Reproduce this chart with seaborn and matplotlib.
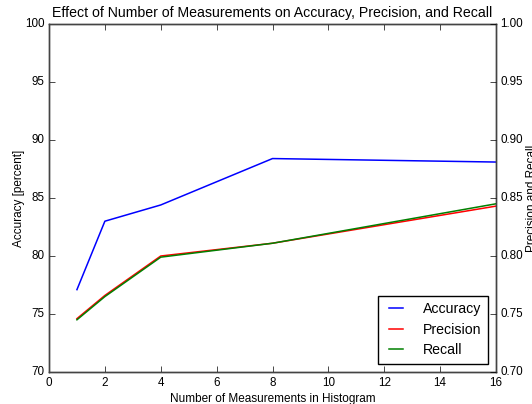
import matplotlib
matplotlib.use("Agg")
import matplotlib.pyplot as plt
import seaborn as sns
import pandas as pd

measurements = [1, 2, 4, 8, 16]
accuracy = [77.1, 83.0, 84.4, 88.4, 88.1]
precision = [0.746, 0.766, 0.800, 0.811, 0.843]
recall = [0.745, 0.765, 0.799, 0.811, 0.845]

plt.style.use("classic")
plt.rcParams["font.family"] = ["Liberation Sans", "DejaVu Sans"]
plt.rcParams["font.size"] = 8.5

df = pd.DataFrame({"n": measurements, "acc": accuracy, "prec": precision, "rec": recall})

fig = plt.figure(figsize=(5.32, 4.04), dpi=100, facecolor="white")
ax = fig.add_axes([49/532, 1-372/404, (496-49)/532, (372-24)/404])
ax2 = ax.twinx()

sns.lineplot(data=df, x="n", y="acc", ax=ax, color="b", linewidth=1.1, label="Accuracy", legend=False)
sns.lineplot(data=df, x="n", y="prec", ax=ax2, color="r", linewidth=1.1, label="Precision", legend=False)
sns.lineplot(data=df, x="n", y="rec", ax=ax2, color="g", linewidth=1.1, label="Recall", legend=False)

ax.set_xlim(0, 16)
ax.set_ylim(70, 100)
ax2.set_ylim(0.70, 1.00)
ax.set_xticks(range(0, 17, 2))
ax.set_yticks(range(70, 101, 5))
ax2.set_yticks([0.70, 0.75, 0.80, 0.85, 0.90, 0.95, 1.00])
ax2.set_yticklabels(["0.70", "0.75", "0.80", "0.85", "0.90", "0.95", "1.00"])

ax.set_xlabel("Number of Measurements in Histogram", fontsize=8.5, labelpad=3)
ax.set_ylabel("Accuracy [percent]", fontsize=8.5, labelpad=0)
ax2.set_ylabel("Precision and Recall", fontsize=8.5, labelpad=2)
ax.set_title("Effect of Number of Measurements on Accuracy, Precision, and Recall", fontsize=10.2)

ax.tick_params(axis="x", labelsize=8.4, pad=3.5)
ax.tick_params(axis="y", labelsize=8.4, pad=3)
ax2.tick_params(axis="y", labelsize=8.4, pad=3)
for a in (ax, ax2):
    for s in a.spines.values():
        s.set_color("#444444")

h1, l1 = ax.get_legend_handles_labels()
h2, l2 = ax2.get_legend_handles_labels()
leg = ax2.legend(h1 + h2, l1 + l2, loc="lower right", fontsize=10.2, frameon=True,
                 fancybox=False, handlelength=1.6, handletextpad=1.1, borderpad=0.45,
                 labelspacing=0.45, borderaxespad=0.6)
leg.get_frame().set_edgecolor("black")

fig.savefig("out.png", dpi=100, facecolor="white")
